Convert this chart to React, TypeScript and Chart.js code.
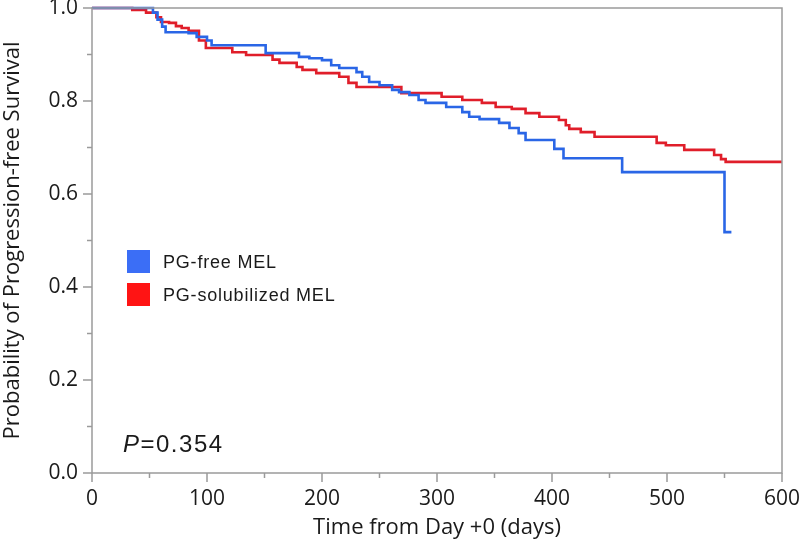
import React, { useEffect, useRef } from "react";
import { Chart, registerables } from "chart.js";

Chart.register(...registerables);

const blueDays = [0, 53, 57, 61, 64, 66, 84, 91, 100, 104, 151, 180, 189, 200, 208, 215, 230, 235, 241, 250, 261, 267, 276, 284, 290, 308, 322, 328, 337, 354, 363, 371, 377, 402, 410, 461, 550, 556];
const blueSurv = [1.0, 0.99, 0.975, 0.96, 0.948, 0.948, 0.946, 0.938, 0.93, 0.92, 0.903, 0.895, 0.892, 0.888, 0.877, 0.871, 0.862, 0.852, 0.841, 0.834, 0.824, 0.819, 0.813, 0.802, 0.796, 0.787, 0.776, 0.766, 0.761, 0.753, 0.742, 0.731, 0.716, 0.697, 0.677, 0.647, 0.518, 0.518];

const redDays = [0, 35, 47, 56, 60, 67, 73, 78, 84, 93, 99, 122, 134, 157, 163, 178, 183, 195, 215, 223, 230, 269, 304, 322, 339, 351, 365, 377, 389, 406, 412, 415, 425, 437, 491, 499, 515, 541, 547, 551, 600];
const redSurv = [1.0, 0.996, 0.99, 0.98, 0.97, 0.968, 0.961, 0.957, 0.951, 0.93, 0.914, 0.905, 0.899, 0.889, 0.882, 0.873, 0.867, 0.86, 0.852, 0.839, 0.83, 0.817, 0.809, 0.802, 0.796, 0.787, 0.783, 0.774, 0.766, 0.759, 0.748, 0.74, 0.733, 0.723, 0.71, 0.705, 0.695, 0.684, 0.675, 0.669, 0.669];

const seriesNames = ["PG-free MEL", "PG-solubilized MEL"];
const seriesLineColors = ["#2a66e6", "#e01e2a"];
const seriesBoxColors = ["#3b6ef6", "#ff1414"];

const xTickValues = [0, 50, 100, 150, 200, 250, 300, 350, 400, 450, 500, 550, 600];
const yTickValues = [0, 0.1, 0.2, 0.3, 0.4, 0.5, 0.6, 0.7, 0.8, 0.9, 1.0];
const pValueText = "=0.354";

const AXIS_COLOR = "#9a9a9a";

export default function App() {
  const ref = useRef<HTMLCanvasElement | null>(null);

  useEffect(() => {
    if (!ref.current) return;
    const toPts = (xs: number[], ys: number[]) => xs.map((x, i) => ({ x, y: ys[i] }));

    const decor = {
      id: "decor",
      afterDraw(chart: any) {
        const ctx = chart.ctx as any;
        const xs = chart.scales.x;
        const ys = chart.scales.y;
        const a = chart.chartArea;
        ctx.save();
        ctx.strokeStyle = AXIS_COLOR;
        ctx.lineWidth = 1.5;
        ctx.beginPath();
        ctx.moveTo(a.left, a.bottom);
        ctx.lineTo(a.left, a.top);
        ctx.lineTo(a.right, a.top);
        ctx.lineTo(a.right, a.bottom);
        ctx.lineTo(a.left, a.bottom);
        ctx.stroke();
        ctx.beginPath();
        xTickValues.forEach((v) => {
          const px = xs.getPixelForValue(v);
          const len = v % 100 === 0 ? 9 : 5;
          ctx.moveTo(px, a.bottom);
          ctx.lineTo(px, a.bottom + len);
        });
        yTickValues.forEach((v, i) => {
          const py = ys.getPixelForValue(v);
          const len = i % 2 === 0 ? 9 : 5;
          ctx.moveTo(a.left, py);
          ctx.lineTo(a.left - len, py);
        });
        ctx.stroke();
        const lx = 127;
        const ly = [250, 283];
        seriesNames.forEach((name, i) => {
          ctx.fillStyle = seriesBoxColors[i];
          ctx.fillRect(lx, ly[i], 23, 23);
          ctx.fillStyle = "#1a1a1a";
          ctx.font = "18px 'Liberation Sans', Arial, sans-serif";
          ctx.letterSpacing = "0.8px";
          ctx.textBaseline = "middle";
          ctx.textAlign = "left";
          ctx.fillText(name, lx + 36, ly[i] + 13);
        });
        ctx.fillStyle = "#1a1a1a";
        ctx.textBaseline = "alphabetic";
        ctx.letterSpacing = "1.5px";
        ctx.font = "italic 24px 'Liberation Sans', Arial, sans-serif";
        ctx.fillText("P", 123, 452);
        const pw = ctx.measureText("P").width;
        ctx.font = "24px 'Liberation Sans', Arial, sans-serif";
        ctx.fillText(pValueText, 123 + pw, 452);
        ctx.letterSpacing = "0px";
        ctx.restore();
      },
    };

    const chart = new Chart(ref.current, {
      type: "line",
      data: {
        datasets: [
          {
            label: seriesNames[0],
            data: toPts(blueDays, blueSurv),
            borderColor: seriesLineColors[0],
            borderWidth: 2.6,
            pointRadius: 0,
            stepped: "before",
            fill: false,
            clip: 6,
          },
          {
            label: seriesNames[1],
            data: toPts(redDays, redSurv),
            borderColor: seriesLineColors[1],
            borderWidth: 2.6,
            pointRadius: 0,
            stepped: "before",
            fill: false,
            clip: 6,
          },
        ],
      },
      options: {
        animation: false,
        responsive: false,
        layout: { padding: { top: 8, right: 18, left: 0, bottom: 0 } },
        plugins: { legend: { display: false }, tooltip: { enabled: false } },
        scales: {
          x: {
            type: "linear",
            min: 0,
            max: 600,
            grid: { display: false, drawTicks: false },
            border: { display: false },
            ticks: {
              stepSize: 100,
              padding: 13,
              color: "#1a1a1a",
              font: { family: "'Open Sans', sans-serif", size: 21 },
              maxRotation: 0,
            },
            title: {
              display: true,
              text: "Time from Day +0 (days)",
              color: "#1a1a1a",
              font: { family: "'Open Sans', sans-serif", size: 22 },
              padding: { top: 0, bottom: 4 },
            },
            afterFit: (s: any) => {
              s.height = 72;
              s.paddingLeft = 0;
              s.paddingRight = 0;
            },
          },
          y: {
            type: "linear",
            min: 0,
            max: 1,
            grid: { display: false, drawTicks: false },
            border: { display: false },
            ticks: {
              stepSize: 0.2,
              padding: 14,
              color: "#1a1a1a",
              font: { family: "'Open Sans', sans-serif", size: 21 },
              callback: (v: any) => Number(v).toFixed(1),
            },
            title: {
              display: true,
              text: "Probability of Progression-free Survival",
              color: "#1a1a1a",
              font: { family: "'Open Sans', sans-serif", size: 22 },
              padding: { top: 0, bottom: 0 },
            },
            afterFit: (s: any) => {
              s.width = 92;
              s.paddingTop = 0;
              s.paddingBottom = 0;
            },
          },
        },
      },
      plugins: [decor],
    });
    return () => chart.destroy();
  }, []);

  return (
    <div style={{ position: "absolute", left: 0, top: 0, width: 800, height: 545, background: "#fff" }}>
      <canvas ref={ref} width={800} height={545} style={{ display: "block" }} />
    </div>
  );
}
